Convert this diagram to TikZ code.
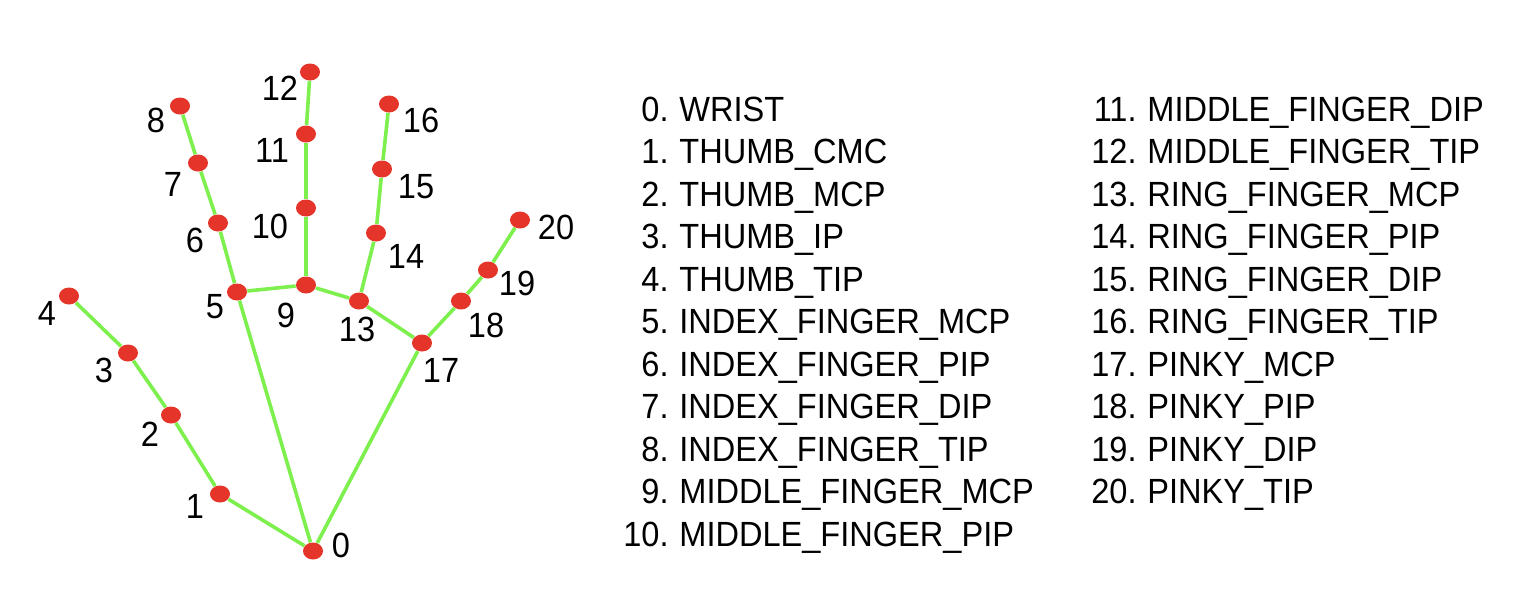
\documentclass[tikz,border=0pt]{standalone}
\usepackage{fontspec}
\setmainfont[FakeStretch=0.93]{Liberation Sans}
\usepackage{xcolor}
\usetikzlibrary{shapes.geometric}
\definecolor{jointred}{HTML}{E5352B}
\definecolor{bonegreen}{HTML}{7DF04E}

\tikzset{
  joint/.style={ellipse, fill=jointred, inner sep=0pt, minimum width=10pt, minimum height=8.5pt},
  bone/.style={bonegreen, line width=1.8pt},
  num/.style={font=\fontsize{17.5}{20}\selectfont, inner sep=0pt},
  entry/.style={font=\fontsize{17.5}{20}\selectfont, inner sep=0pt}
}

\begin{document}
\begin{tikzpicture}[x=0.5pt, y=-0.5pt]
  \useasboundingbox (0,0) rectangle (1514,602);

  % landmarks: index / joint position / label position
  \foreach \i/\x/\y/\lx/\ly in {0/313/551/341/545, 1/220/494/195/506, 2/171/415/150/434,
      3/128/353/104/370, 4/69/296/47/313, 5/237/292/215/307, 6/218/223/195/240,
      7/198/163/173/184, 8/180/106/156/120, 9/306/285/286/315, 10/306/208/270/226,
      11/306/134/272/150, 12/310/72/280/88, 13/359/301/357/329, 14/376/233/406/256,
      15/382/169/416/187, 16/389/104/421/120, 17/422/343/441/370, 18/461/301/486/325,
      19/488/270/517/283, 20/520/220/556/227}{
    \node[joint] (p\i) at (\x,\y) {};
    \node[num] (l\i) at (\lx,\ly) {\i};
  }

  \foreach \a/\b in {0/1, 1/2, 2/3, 3/4, 0/5, 5/6, 6/7, 7/8, 5/9, 9/10, 10/11, 11/12,
      9/13, 13/14, 14/15, 15/16, 13/17, 0/17, 17/18, 18/19, 19/20}
    \draw[bone] (p\a) -- (p\b);

  % names, left column
  \foreach \i/\name [count=\r from 0] in {0/WRIST, 1/THUMB\_CMC, 2/THUMB\_MCP, 3/THUMB\_IP,
      4/THUMB\_TIP, 5/INDEX\_FINGER\_MCP, 6/INDEX\_FINGER\_PIP, 7/INDEX\_FINGER\_DIP,
      8/INDEX\_FINGER\_TIP, 9/MIDDLE\_FINGER\_MCP, 10/MIDDLE\_FINGER\_PIP}{
    \node[entry, anchor=base east] (n\i) at (669,121+42.5*\r) {\i.};
    \node[entry, anchor=base west] (t\i) at (679,121+42.5*\r) {\name};
  }

  % names, right column
  \foreach \i/\name [count=\r from 0] in {11/MIDDLE\_FINGER\_DIP, 12/MIDDLE\_FINGER\_TIP,
      13/RING\_FINGER\_MCP, 14/RING\_FINGER\_PIP, 15/RING\_FINGER\_DIP, 16/RING\_FINGER\_TIP,
      17/PINKY\_MCP, 18/PINKY\_PIP, 19/PINKY\_DIP, 20/PINKY\_TIP}{
    \node[entry, anchor=base east] (n\i) at (1137,121+42.5*\r) {\i.};
    \node[entry, anchor=base west] (t\i) at (1147,121+42.5*\r) {\name};
  }
\end{tikzpicture}
\end{document}
